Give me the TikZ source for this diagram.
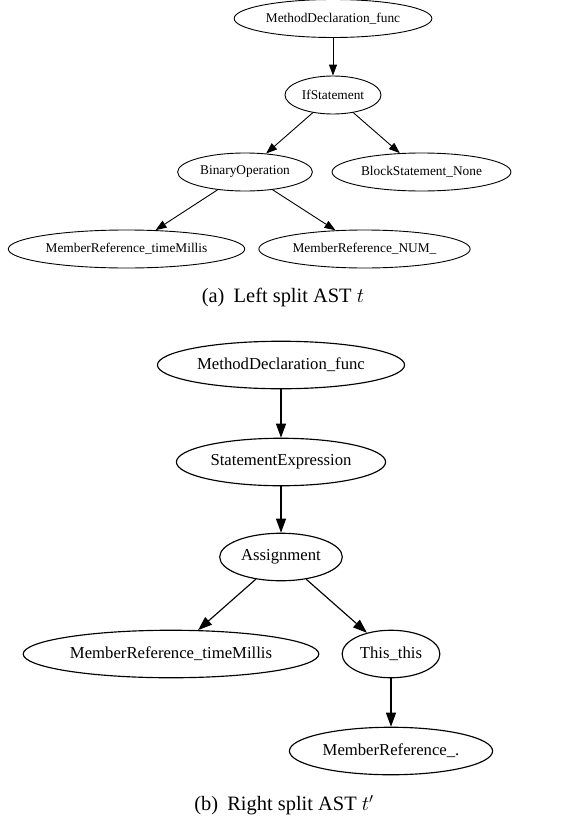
\documentclass[tikz,border=0pt]{standalone}
\usepackage{fontspec}
\setmainfont{Liberation Serif}
\usetikzlibrary{shapes.geometric,arrows.meta}
\tikzset{lnode/.style={draw,ellipse,line width=0.9bp,inner xsep=2.8bp,minimum height=38bp,font=\fontsize{13.4}{16}\selectfont}}
\tikzset{rnode/.style={draw,ellipse,line width=1.15bp,inner xsep=3.5bp,minimum height=47.5bp,font=\fontsize{16.75}{20}\selectfont}}
\tikzset{ledge/.style={line width=0.9bp,-{Triangle[length=11bp,width=8bp]}}}
\tikzset{redge/.style={line width=1.15bp,-{Triangle[length=14bp,width=10bp]}}}
\tikzset{subcap/.style={font=\fontsize{20.5}{24}\selectfont}}

\begin{document}
\begin{tikzpicture}[x=1bp,y=-1bp]
    \useasboundingbox (0,0) rectangle (571,823);

    % left split
    \node[lnode] (lmeth)  at (333,18.5)  {MethodDeclaration\_func};
    \node[lnode] (lif)    at (333,95)    {IfStatement};
    \node[lnode] (lbin)   at (245,172)   {BinaryOperation};
    \node[lnode] (lblock) at (421.5,172) {BlockStatement\_None};
    \node[lnode] (ltime)  at (126.5,249) {MemberReference\_timeMillis};
    \node[lnode] (lnum)   at (364.5,249) {MemberReference\_NUM\_};
    \draw[ledge] (lmeth) -- (lif);
    \draw[ledge] (lif) -- (lbin);
    \draw[ledge] (lif) -- (lblock);
    \draw[ledge] (lbin) -- (ltime);
    \draw[ledge] (lbin) -- (lnum);
    \node[subcap] (capa) at (283,297) {(a)\hspace{0.45em}Left split AST $t$};

    % right split
    \node[rnode] (rmeth)   at (281,365)   {MethodDeclaration\_func};
    \node[rnode] (rstmt)   at (281,462)   {StatementExpression};
    \node[rnode] (rassign) at (281,557)   {Assignment};
    \node[rnode] (rtime)   at (171,654)   {MemberReference\_timeMillis};
    \node[rnode] (rthis)   at (391,654)   {This\_this};
    \node[rnode] (rmember) at (391,751)   {MemberReference\_.};
    \draw[redge] (rmeth) -- (rstmt);
    \draw[redge] (rstmt) -- (rassign);
    \draw[redge] (rassign) -- (rtime);
    \draw[redge] (rassign) -- (rthis);
    \draw[redge] (rthis) -- (rmember);
    \node[subcap] (capb) at (284,805) {(b)\hspace{0.45em}Right split AST $t'$};

\end{tikzpicture}
\end{document}
